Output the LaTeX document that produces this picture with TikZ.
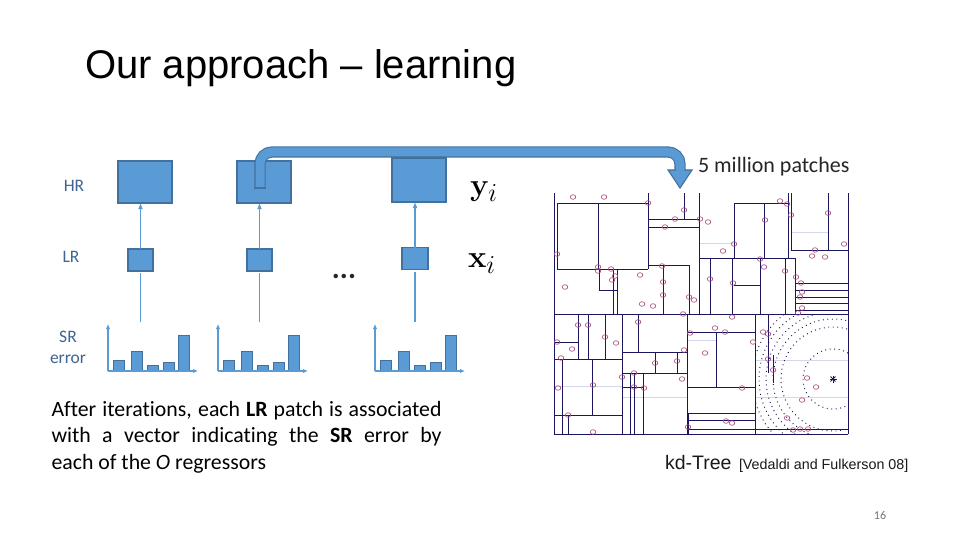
\documentclass[tikz,border=0pt]{standalone}
\usepackage[no-math]{fontspec}
\setmainfont{Carlito}[Ligatures=NoCommon]
\newfontfamily\titlefont{Liberation Sans}
\usetikzlibrary{arrows.meta, positioning, calc}

\definecolor{boxfill}{RGB}{91,155,213}
\definecolor{boxline}{RGB}{65,113,156}
\definecolor{labelblue}{RGB}{62,100,146}
\definecolor{kdline}{RGB}{28,22,92}
\definecolor{kdpoint}{RGB}{168,72,128}
\definecolor{kdlight}{RGB}{214,214,236}

\begin{document}
\begin{tikzpicture}[
    x=1pt, y=-1pt,
    every node/.style={inner sep=0pt, outer sep=0pt},
    hrbox/.style={rectangle, draw=boxline, fill=boxfill, line width=1.2pt, minimum width=54pt, minimum height=42pt},
    lrbox/.style={rectangle, draw=boxline, fill=boxfill, line width=1.2pt, minimum width=25pt, minimum height=22pt},
    link/.style={-{Latex[length=6pt, width=5pt]}, boxfill, line width=1.6pt},
    stem/.style={boxfill, line width=1.6pt},
    axis/.style={-{Latex[length=5pt, width=4.5pt]}, boxfill, line width=1.4pt},
    bar/.style={draw=boxline, fill=boxfill, line width=1pt},
    rowlabel/.style={font=\fontsize{17.5}{21}\selectfont, text=labelblue, align=center},
    mathlabel/.style={anchor=base west, font=\Huge, scale=1.25},
    bigarrow/.style={draw=boxline, line width=1.1pt, double=boxfill, double distance=9pt, rounded corners=12pt},
    bighead/.style={draw=boxline, fill=boxfill, line width=1.1pt, line join=miter},
    split/.style={kdline, line width=0.9pt},
    faint/.style={kdlight, line width=0.7pt},
    ring/.style={kdline, line width=1pt, dash pattern=on 0.9pt off 3.6pt},
    kdpt/.style={draw=kdpoint, line width=0.6pt}
]
\fill[white] (0,0) rectangle (960,540);
\useasboundingbox (0,0) rectangle (960,540);

% Title
\node[anchor=base west, font=\titlefont\fontsize{40}{48}\selectfont] (title) at (85,79) {Our approach – learning};

% Row labels
\node[rowlabel] (hrlab) at (74,186) {HR};
\node[rowlabel] (lrlab) at (71,257) {LR};
\node[rowlabel] (srlab) at (68,347) {SR\\error};

% HR patches
\node[hrbox] (hr1) at (145,182) {};
\node[hrbox] (hr2) at (264,182) {};
\node[hrbox, minimum height=44pt] (hr3) at (419,180) {};

% LR patches
\node[lrbox] (lr1) at (140.5,260) {};
\node[lrbox] (lr2) at (259.5,260) {};
\node[lrbox, minimum width=26pt] (lr3) at (415,258.5) {};

% LR -> HR
\draw[link] (lr1.north) -- (lr1.north |- hr1.south);
\draw[link] (lr2.north) -- (lr2.north |- hr2.south);
\draw[link] (lr3.north) -- (lr3.north |- hr3.south);

% SR error histograms
\foreach \hx in {108, 218, 375} {
  \begin{scope}[shift={(\hx,371)}]
    \foreach \bx/\bh in {5/11, 23/20, 39/6, 55/9, 70/36}
      \draw[bar] (\bx,0) rectangle ++(11,-\bh);
    \draw[axis] (0,0) -- (0,-47);
    \draw[axis] (0,0) -- (90,0);
  \end{scope}
}

% Histograms up to LR
\coordinate (s1) at (140.5,322);
\coordinate (s2) at (259.5,322);
\coordinate (s3) at (415,322);
\draw[stem, shorten >=2pt] (s1) -- (lr1.south);
\draw[stem, shorten >=2pt] (s2) -- (lr2.south);
\draw[stem, shorten >=2pt] (s3) -- (lr3.south);

\node[font=\bfseries\fontsize{30}{30}\selectfont, text=black!85] (dots) at (344,276) {...};

% Patch symbols
\node[mathlabel] (ylab) at (470,195) {$\mathbf{y}_i$};
\node[mathlabel] (xlab) at (468,267) {$\mathbf{x}_i$};

% Big arrow to the tree
\coordinate (src) at (260,188);
\coordinate (bend) at (680,170);
\coordinate (tip) at (680,188);
\filldraw[bighead] ([xshift=-12pt]bend) -- ([xshift=12pt]bend) -- (tip) -- cycle;
\draw[bigarrow] (src) -- ++(0,-36) -| ([yshift=-1pt]bend);
\draw[boxline, line width=1.1pt] ([xshift=-5.6pt]src) -- ([xshift=5.6pt]src);
\node[anchor=base west, font=\fontsize{22}{22}\selectfont, text=black!85] (mp) at (698,172) {5 million patches};

% kd-tree cells
\foreach \a/\b/\c/\d in {699/243/734/243, 554/386/622/386, 687/340/716/340, 755/360/848/360, 755/397/848/397, 791/232/828/232, 622/397/687/397}
  \draw[faint] (\a,\b) -- (\c,\d);
\foreach \a/\b/\c/\d in {554/193/554/434, 848/193/848/434, 554/434/848/434, 554/314/848/314,
    557/203/648/203, 557/203/557/270, 648/193/648/269, 557/269/648/269, 598/203/598/269,
    599/270/599/290, 599/290/617/290, 613/270/613/314, 617/270/617/314,
    648/219/699/219, 648/227/699/227, 648/265/689/265, 663/265/663/314, 684/193/684/219,
    689/265/689/314, 699/193/699/314,
    699/258/795/258, 734/203/734/258, 734/203/788/203, 764/203/764/258, 788/193/788/258,
    791/193/791/250, 791/250/848/250, 828/193/828/250,
    710/258/710/314, 732/258/732/314, 760/258/760/314, 785/258/785/314, 734/285/760/285, 795/258/795/314,
    795/283/848/283, 795/290/848/290, 795/297/848/297, 795/303/848/303, 795/310/848/310,
    622/314/622/434, 687/314/687/434, 755/314/755/434,
    554/359/622/359, 578/314/578/359, 588/314/588/359, 605/314/605/359, 554/342/578/342,
    562/359/562/434, 554/415/622/415, 568/415/568/434, 592/359/592/415,
    638/314/638/352, 622/352/687/352, 655/352/655/373, 677/352/677/373, 622/373/687/373,
    630/373/630/434, 634/373/634/434, 643/373/643/434, 622/387/643/387,
    687/332/755/332, 716/332/716/387, 687/387/755/387, 687/413/755/413, 687/420/755/420,
    688/413/688/434, 687/429/755/429,
    768/314/768/373, 773/355/773/383, 755/429/848/429}
  \draw[split] (\a,\b) -- (\c,\d);

% Query neighbourhood
\begin{scope}
  \clip (755,314) rectangle (848,434);
  \foreach \r in {30pt, 52pt, 60pt, 67pt, 74pt, 81pt}
    \draw[ring] (833,379) circle[radius=\r];
\end{scope}
\foreach \ang in {0, 45, 90, 135}
  \draw[kdline, line width=1pt] (833,379) +(\ang:3.5pt) -- +(\ang+180:3.5pt);

% Data points
\foreach \px/\py in {573/197, 604/197, 648/203, 684/210, 675/219, 700/219, 708/222, 665/227, 780/201, 787/204,
    791/215, 765/220, 828/213, 844/244, 815/250, 812/256, 825/257, 557/254, 734/244, 723/251,
    598/267, 598/271, 611/269, 615/276, 612/280, 662/266, 640/275, 663/282, 663/295, 689/297,
    694/300, 642/304, 653/306, 565/287, 710/279, 733/283, 760/259, 764/267, 785/271, 796/277,
    801/283, 802/292, 800/297, 802/308, 798/313, 683/314, 732/317,
    557/342, 572/349, 578/325, 588/325, 605/337, 616/343, 561/358, 558/388, 593/385, 568/415,
    593/432, 638/322, 622/377, 634/373, 634/387, 644/388, 655/363, 677/361, 684/350, 682/379,
    690/333, 715/328, 725/332, 705/353, 753/342, 742/388, 688/427, 726/421, 732/423, 763/332,
    768/334, 768/359, 773/370, 807/378, 816/387, 802/400, 787/418, 800/429, 793/430, 808/429}
  \draw[kdpt] (\px,\py) ellipse [x radius=2.8pt, y radius=2.3pt];

% Captions
\node[anchor=base west, font=\titlefont\fontsize{19.5}{20}\selectfont, text=black!90] (kd) at (665,469) {kd-Tree};
\node[anchor=base west, font=\titlefont\fontsize{14.3}{15}\selectfont, text=black!90] (ref) at (739,469) {[Vedaldi and Fulkerson 08]};

\node[anchor=base west, text width=390pt, align=justify, font=\fontsize{21.8}{26.5}\selectfont] (note) at (51.5,416)
  {After iterations, each \textbf{LR} patch is associated\linebreak with a vector indicating the \textbf{SR} error by\linebreak each of the \textit{O} regressors};

\node[font=\fontsize{12}{12}\selectfont, text=black!55] (pnum) at (880,515.5) {16};

\end{tikzpicture}
\end{document}
